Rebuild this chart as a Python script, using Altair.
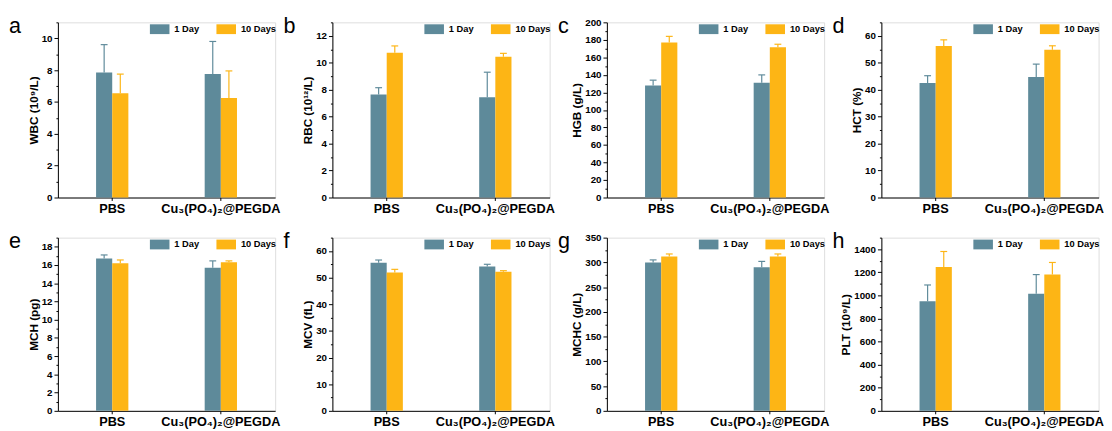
import altair as alt
import pandas as pd

letters = ["a", "b", "c", "d", "e", "f", "g", "h"]
y_titles = ["WBC (10⁹/L)", "RBC (10¹²/L)", "HGB (g/L)", "HCT (%)",
            "MCH (pg)", "MCV (fL)", "MCHC (g/L)", "PLT (10⁹/L)"]
groups = ["PBS", "Cu₃(PO₄)₂@PEGDA"]
series = ["1 Day", "10 Days"]
colors = ["#5E8A9A", "#FDB515"]

# order: PBS-1 Day, PBS-10 Days, Cu-1 Day, Cu-10 Days
wbc_mean = [7.85, 6.55, 7.75, 6.25]
wbc_err = [1.75, 1.2, 2.05, 1.7]
rbc_mean = [7.65, 10.75, 7.45, 10.45]
rbc_err = [0.5, 0.5, 1.85, 0.25]
hgb_mean = [128, 177, 131, 171.5]
hgb_err = [6, 7, 9, 3.5]
hct_mean = [42.5, 56.2, 44.7, 54.8]
hct_err = [2.7, 2.3, 4.8, 1.5]
mch_mean = [16.7, 16.2, 15.7, 16.3]
mch_err = [0.4, 0.35, 0.75, 0.15]
mcv_mean = [55.6, 51.9, 54.2, 52.2]
mcv_err = [1.0, 1.2, 0.8, 0.4]
mchc_mean = [300, 312, 290, 312]
mchc_err = [5, 5, 12, 5]
plt_mean = [950, 1245, 1015, 1180]
plt_err = [140, 135, 165, 105]

means = [wbc_mean, rbc_mean, hgb_mean, hct_mean, mch_mean, mcv_mean, mchc_mean, plt_mean]
errs = [wbc_err, rbc_err, hgb_err, hct_err, mch_err, mcv_err, mchc_err, plt_err]
y_max = [11, 13, 200, 65, 19, 65, 350, 1500]
major_step = [2, 2, 20, 10, 2, 10, 50, 200]
minor_step = [1, 1, 10, 5, 1, 5, 25, 100]

FONT = "Liberation Sans"
W = 222


def panel(i, height):
    mean = means[i]
    err = errs[i]
    df = pd.DataFrame({
        "group": [g for g in groups for _ in series],
        "series": series * 2,
        "mean": mean,
        "top": [m + e for m, e in zip(mean, err)],
    })
    ticks = list(range(0, y_max[i] + 1, minor_step[i]))
    test = f"datum.value % {major_step[i]} === 0"
    x = alt.X("group:N", sort=groups,
              scale=alt.Scale(paddingInner=0.7027, paddingOuter=0.3514),
              axis=alt.Axis(title=None, labelAngle=0, labelFont=FONT, labelFontSize=13,
                            labelFontWeight="bold", labelColor="black", labelPadding=2,
                            tickSize=3, tickColor="black", domainColor="black",
                            labelLimit=0, labelOverlap=False, grid=False))
    xo = alt.XOffset("series:N", sort=series,
                     scale=alt.Scale(paddingInner=0, paddingOuter=0))
    yaxis = alt.Axis(title=y_titles[i], values=ticks, format="d",
                     labelExpr=f"{test} ? datum.label : ''",
                     tickSize={"condition": {"test": test, "value": 4}, "value": 2},
                     labelFont=FONT, labelFontSize=10, labelFontWeight="bold",
                     labelColor="black", labelPadding=2, labelOverlap=False,
                     labelFlush=False, tickColor="black", domainColor="black",
                     titleFont=FONT, titleFontSize=12, titleFontWeight="bold",
                     titleColor="black", titlePadding=1, grid=False)
    yscale = alt.Scale(domain=[0, y_max[i]], nice=False, zero=True)
    base = alt.Chart(df)
    bars = base.mark_bar().encode(
        x=x, xOffset=xo,
        y=alt.Y("mean:Q", scale=yscale, axis=yaxis),
        color=alt.Color("series:N", sort=series,
                        scale=alt.Scale(domain=series, range=colors),
                        legend=alt.Legend(title=None, orient="none", legendX=94, legendY=-3,
                                          direction="horizontal", columns=2,
                                          symbolType="M-1,-0.5L1,-0.5L1,0.5L-1,0.5Z",
                                          symbolSize=400, symbolStrokeWidth=0,
                                          symbolOpacity=1,
                                          labelFont=FONT, labelFontSize=9.5,
                                          labelFontWeight="bold", labelColor="black",
                                          labelOffset=5, columnPadding=17, padding=0)),
    )
    stroke = alt.Stroke("series:N", sort=series,
                        scale=alt.Scale(domain=series, range=colors), legend=None)
    rules = base.mark_rule(strokeWidth=1.2).encode(
        x=x, xOffset=xo,
        y=alt.Y("mean:Q", scale=yscale, axis=yaxis),
        y2="top:Q", stroke=stroke,
    )
    caps = base.mark_point(shape="M-1,0L1,0", size=49, filled=False,
                           strokeWidth=1.2, opacity=1).encode(
        x=x, xOffset=xo,
        y=alt.Y("top:Q", scale=yscale, axis=yaxis),
        stroke=stroke,
    )
    label = alt.Chart(pd.DataFrame({"letter": [letters[i]]})).mark_text(
        align="left", baseline="alphabetic", fontSize=22, font=FONT, color="black"
    ).encode(x=alt.value(-50), y=alt.value(11), text="letter:N")
    return alt.layer(bars, rules, caps, label).properties(width=W, height=height)


row1 = alt.hconcat(*[panel(i, 179) for i in range(4)], spacing=1.5).resolve_scale(
    color="independent", stroke="independent")
row2 = alt.hconcat(*[panel(i, 177) for i in range(4, 8)], spacing=1.5).resolve_scale(
    color="independent", stroke="independent")

chart = alt.vconcat(row1, row2, spacing=14).resolve_scale(
    color="independent", stroke="independent"
).properties(
    padding={"left": 0, "top": 2, "right": 0, "bottom": 0}, background="white"
).configure_view(stroke="black", strokeWidth=1).configure(font=FONT)

chart.save("out.html", embed_options={"renderer": "svg", "actions": False})
